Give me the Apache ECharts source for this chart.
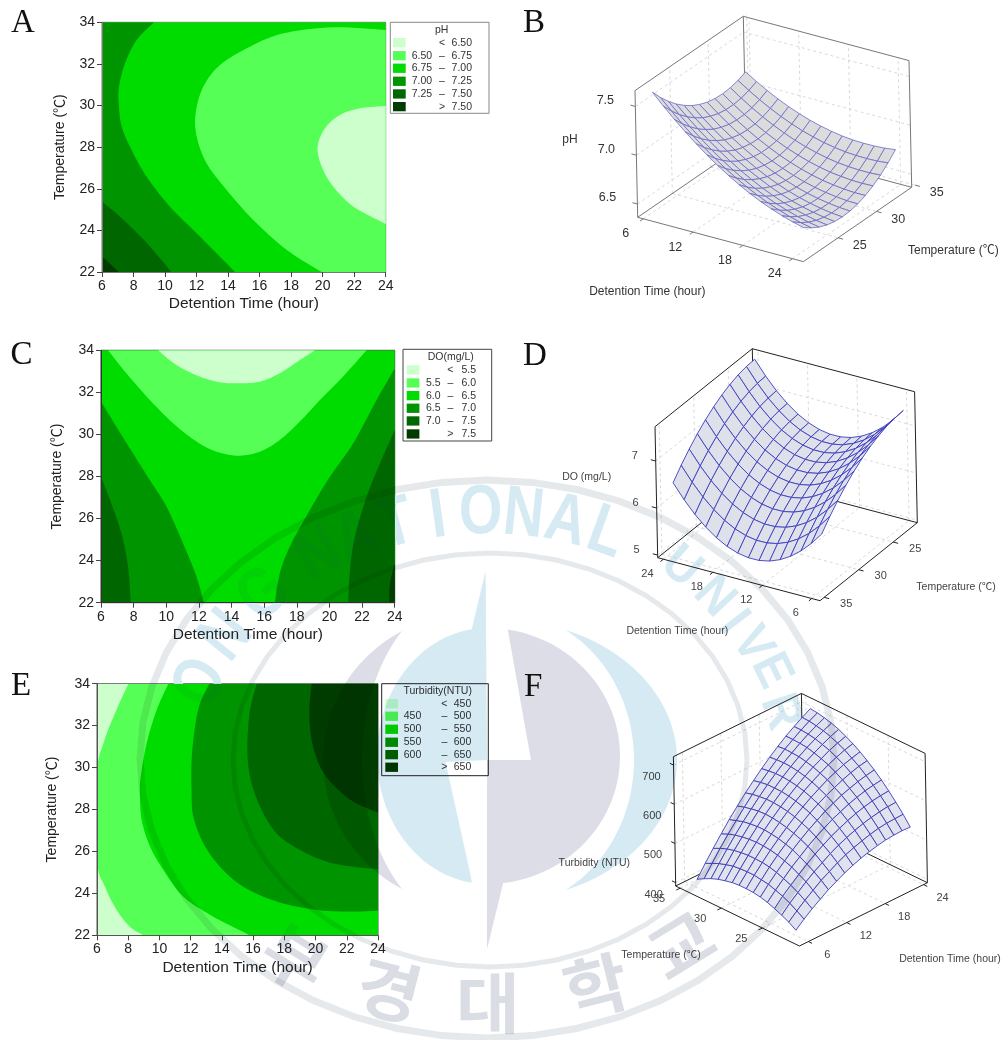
<!DOCTYPE html>
<html><head><meta charset="utf-8">
<style>html,body{margin:0;padding:0;background:#fff}#c{width:1002px;height:1040px}</style>
<script src="https://cdn.jsdelivr.net/npm/echarts@6/dist/echarts.min.js"></script>
</head><body><div id="c"></div>
<script>
const SANS="'Liberation Sans','Noto Sans CJK KR',sans-serif";
const greens=['#ccffcc','#55ff55','#00db00','#009400','#006600','#003c00'];

const xTicks=[6,8,10,12,14,16,18,20,22,24];
const A_700=[[9.3,34],[8.2,33.15],[7.46,32.03],[7.08,30.91],[7.06,30.11],[7.25,28.99],[7.88,27.86],[8.83,26.58],[10.31,25.14],[12.01,23.86],[14.44,22]];
const A_725=[[6,25.38],[7.14,24.66],[8.83,23.4],[10.4,22]];
const A_750=[[6,22.75],[6.5,22.4],[7.05,22]];
const A_675=[[24,33.63],[20.68,33.76],[17.51,33.47],[15.39,32.83],[13.49,31.95],[12.43,30.91],[11.94,29.63],[12.01,28.5],[12.64,27.22],[13.91,25.94],[15.6,24.5],[17.72,23.06],[19.94,22]];
const A_650=[[24,29.98],[22.37,29.87],[21.1,29.55],[20.15,28.91],[19.68,28.02],[19.94,27.06],[20.68,26.1],[21.95,25.14],[24,24.31]];

const C_55=[[9.5,34],[10.62,33.3],[12.05,32.75],[13.28,32.48],[14.41,32.43],[15.73,32.51],[16.96,32.91],[18.19,33.54],[19.11,34]];
const C_60=[[6.43,34],[7.55,32.91],[8.99,31.64],[10.42,30.53],[11.85,29.66],[13.08,29.18],[14.41,28.99],[15.73,29.18],[16.96,29.74],[18.19,30.61],[19.42,31.64],[20.64,32.59],[22.28,34]];
const C_65L=[[6,31.56],[6.94,30.37],[7.96,29.1],[8.99,27.83],[10.01,26.57],[11.03,24.82],[11.85,23.24],[12.3,22]];
const C_70L=[[6,27.99],[6.63,26.72],[7.25,25.3],[7.66,23.71],[7.82,22]];
const C_65R=[[24,33.14],[22.89,31.64],[21.46,29.58],[20.03,27.99],[18.8,26.41],[17.57,24.66],[16.96,23.4],[16.65,22]];
const C_70R=[[24,30.21],[23.1,28.63],[22.28,27.04],[21.56,25.14],[21.26,23.55],[21.15,22]];
const C_75R=[[24,23.87],[23.71,22.92],[23.65,22]];

const E_450=[[8.01,34],[7.15,32.59],[6.41,31.15],[6,29.72],[6,25.59],[6.51,24.32],[7.26,23.21],[8.11,22.41],[8.97,22]];
const E_500=[[10.57,34],[9.82,32.74],[9.18,31.16],[8.8,29.57],[8.75,28.77],[8.86,27.5],[9.4,26.23],[10.25,25.12],[11.53,23.84],[13.45,22.89],[15.8,22]];
const E_550=[[13.2,34],[12.6,33.06],[12.28,31.95],[12.06,30.36],[12.06,28.77],[12.17,27.66],[12.81,26.39],[13.88,25.27],[15.37,24.32],[17.51,23.61],[20.07,23.21],[22.42,23.13],[24,23.18]];
const E_600=[[16.23,34],[15.8,32.74],[15.63,31],[15.8,29.57],[16.44,28.14],[17.51,26.86],[19,26.07],[20.71,25.51],[22.42,25.27],[24,25.15]];
const E_650=[[19.75,34],[19.6,32.74],[19.75,31.31],[20.29,30.04],[21.14,29.17],[22.42,28.37],[24,27.85]];

/* ---- legend rows ---- */
const legendPH=[['','<','6.50'],['6.50','–','6.75'],['6.75','–','7.00'],['7.00','–','7.25'],['7.25','–','7.50'],['','>','7.50']];
const legendDO=[['','<','5.5'],['5.5','–','6.0'],['6.0','–','6.5'],['6.5','–','7.0'],['7.0','–','7.5'],['','>','7.5']];
const legendTU=[['','<','450'],['450','–','500'],['500','–','550'],['550','–','600'],['600','–','650'],['','>','650']];

const meshHours=[6,7.29,8.57,9.86,11.14,12.43,13.71,15,16.29,17.57,18.86,20.14,21.43,22.71,24];
const meshTempB=[22,23,24,25,26,27,28,29,30,31,32,33,34];
const pHSurface=[
[7.580,7.468,7.363,7.264,7.172,7.086,7.006,6.933,6.865,6.805,6.751,6.705,6.664,6.629,6.601],
[7.473,7.365,7.263,7.168,7.079,6.997,6.920,6.851,6.786,6.730,6.680,6.637,6.600,6.568,6.544],
[7.379,7.274,7.176,7.084,6.999,6.920,6.847,6.781,6.720,6.667,6.620,6.581,6.547,6.519,6.498],
[7.297,7.196,7.102,7.013,6.932,6.856,6.787,6.725,6.667,6.618,6.574,6.539,6.508,6.483,6.466],
[7.229,7.131,7.040,6.955,6.877,6.805,6.739,6.681,6.627,6.581,6.541,6.509,6.482,6.461,6.447],
[7.172,7.078,6.990,6.909,6.834,6.766,6.703,6.648,6.598,6.556,6.520,6.491,6.468,6.450,6.440],
[7.130,7.039,6.955,6.877,6.806,6.741,6.682,6.630,6.584,6.545,6.512,6.487,6.467,6.453,6.446],
[7.099,7.012,6.931,6.857,6.789,6.728,6.672,6.624,6.581,6.546,6.517,6.495,6.479,6.468,6.465],
[7.082,6.998,6.921,6.850,6.786,6.728,6.676,6.632,6.593,6.561,6.535,6.517,6.504,6.497,6.497],
[7.077,6.997,6.924,6.856,6.796,6.741,6.693,6.652,6.616,6.588,6.565,6.551,6.541,6.538,6.541],
[7.085,7.008,6.938,6.874,6.817,6.766,6.721,6.684,6.652,6.627,6.608,6.597,6.591,6.591,6.598],
[7.106,7.033,6.966,6.906,6.852,6.805,6.763,6.730,6.701,6.680,6.665,6.657,6.655,6.658,6.669],
[7.140,7.070,7.007,6.950,6.900,6.856,6.818,6.788,6.763,6.745,6.733,6.729,6.730,6.737,6.751]];
const meshTempD=[22,23.2,24.4,25.6,26.8,28,29.2,30.4,31.6,32.8,34];
const doSurface=[
[7.343,7.083,6.865,6.690,6.559,6.469,6.423,6.420,6.460,6.542,6.667,6.836,7.046,7.300,7.597],
[7.329,7.069,6.851,6.676,6.545,6.455,6.409,6.406,6.446,6.528,6.653,6.822,7.032,7.286,7.583],
[7.292,7.032,6.814,6.639,6.508,6.418,6.372,6.369,6.409,6.491,6.616,6.785,6.995,7.249,7.546],
[7.230,6.970,6.752,6.577,6.446,6.356,6.310,6.307,6.347,6.429,6.554,6.723,6.933,7.187,7.484],
[7.145,6.885,6.667,6.492,6.361,6.271,6.225,6.222,6.262,6.344,6.469,6.638,6.848,7.102,7.399],
[7.035,6.775,6.557,6.382,6.251,6.161,6.115,6.112,6.152,6.234,6.359,6.528,6.738,6.992,7.289],
[6.901,6.641,6.423,6.248,6.117,6.027,5.981,5.978,6.018,6.100,6.225,6.394,6.604,6.858,7.155],
[6.744,6.484,6.266,6.091,5.960,5.870,5.824,5.821,5.861,5.943,6.068,6.237,6.447,6.701,6.998],
[6.562,6.302,6.084,5.909,5.778,5.688,5.642,5.639,5.679,5.761,5.886,6.055,6.265,6.519,6.816],
[6.357,6.097,5.879,5.704,5.573,5.483,5.437,5.434,5.474,5.556,5.681,5.850,6.060,6.314,6.611],
[6.127,5.867,5.649,5.474,5.343,5.253,5.207,5.204,5.244,5.326,5.451,5.620,5.830,6.084,6.381]];
const meshTempF=[22,22.86,23.71,24.57,25.43,26.29,27.14,28,28.86,29.71,30.57,31.43,32.29,33.14,34];
const turbiditySurface=[
[405,423,439,453,467,478,489,498,506,512,517,521,523,524,523],
[417,435,452,467,482,494,506,516,524,531,537,542,545,546,547],
[426,446,463,480,495,508,521,532,541,549,556,561,565,568,569],
[434,455,473,490,506,521,534,546,556,565,573,579,584,587,589],
[441,462,481,500,516,532,546,558,570,579,588,595,601,605,608],
[446,468,488,507,525,541,556,569,582,592,602,609,616,621,625],
[449,471,493,513,531,548,564,579,592,603,613,622,630,636,640],
[450,474,496,517,536,554,571,586,600,612,624,633,642,648,654],
[450,474,497,519,539,558,576,592,607,620,632,643,652,660,666],
[448,473,497,520,541,561,579,596,612,626,639,650,661,669,676],
[444,471,495,519,541,562,581,599,615,630,644,656,667,677,685],
[439,466,492,516,539,561,581,599,617,633,648,661,673,683,692],
[432,460,487,512,536,558,579,599,617,634,649,663,676,687,697],
[423,452,480,506,530,554,576,596,615,633,650,664,678,690,701],
[413,443,471,498,524,548,571,592,612,631,648,664,678,691,703]];

const ticksHour3D=[6,12,18,24];
const ticksTemp3D=[25,30,35];
const ticksPH=[6.5,7.0,7.5];
const ticksDO=[5,6,7];
const ticksTU=[400,500,600,700];

/* ---- layout ---- */
const contourPanels=[
 {rect:[102,22.3,283.7,249.7],frame:'#777',nameGapX:24,nameGapY:35,full:greens[2],layers:[
  {c:3,curve:A_700,close:[[6,22],[6,34]]},{c:4,curve:A_725,close:[[6,22]]},{c:5,curve:A_750,close:[[6,22]]},
  {c:1,curve:A_675,close:[[24,22]]},{c:0,curve:A_650,close:[]}]},
 {rect:[101,350.3,293.7,252.4],frame:'#333',nameGapX:24,nameGapY:37,full:greens[2],layers:[
  {c:1,curve:C_60,close:[]},{c:0,curve:C_55,close:[]},{c:3,curve:C_65L,close:[[6,22]]},{c:4,curve:C_70L,close:[[6,22]]},
  {c:3,curve:C_65R,close:[[24,22]]},{c:4,curve:C_70R,close:[[24,22]]},{c:5,curve:C_75R,close:[[24,22]]}]},
 {rect:[97,683.7,281,251.6],frame:'#555',nameGapX:25,nameGapY:38,full:greens[0],layers:[
  {c:1,curve:E_450,close:[[24,22],[24,34]]},{c:2,curve:E_500,close:[[24,22],[24,34]]},
  {c:3,curve:E_550,close:[[24,34]]},{c:4,curve:E_600,close:[[24,34]]},{c:5,curve:E_650,close:[[24,34]]}]}
];
const legends=[
 {box:[390.3,22.3,98.7,91],border:'#888',title:'pH',titleX:441.7,titleY:30,rows:legendPH,ys:[42.7,55.7,68.3,81.3,94,106.7],sw:393,lo:411.7,dash:442,hi:472},
 {box:[403,349.3,88.7,91.7],border:'#444',title:'DO(mg/L)',titleX:450.7,titleY:357,rows:legendDO,ys:[370,383,395.7,408.3,421,434],sw:406.7,lo:426,dash:450.3,hi:476},
 {box:[381.7,683.7,106.6,92],border:'#222',title:'Turbidity(NTU)',titleX:437.7,titleY:691,rows:legendTU,ys:[703.7,716.3,729.3,742.3,754.7,767.3],sw:385.3,lo:403.7,dash:444.3,hi:471.3}
];
const surfaces=[
 {O:[637.7,217.3],E1:[165.7,44.3],E2:[108.3,-74.3],E3:[-2.7,-126.7],
  hours:meshHours,temps:meshTempB,z:pHSurface,
  p:v=>.034+(v-6)*.05,q:v=>.107+(v-22)*.071,r:v=>.105+(v-6.5)*.77,pIsHour:true,
  pTicks:ticksHour3D,qTicks:ticksTemp3D,zTicks:ticksPH,zFmt:v=>v.toFixed(1),
  pOff:[-17.7,15],qOff:[21.7,7.7],zOff:[-30,-6],fs:12.5,
  fill:'#dcdcdc',line:'#6a6ac8',lw:.8,edge:'#777',grid:'#cfcfcf',text:'#333',
  names:[['pH',570,139.3],['Detention Time (hour)',647.3,291.7],['Temperature (℃)',953.3,251]]},
 {O:[657.7,557.7],E1:[162.3,43],E2:[97.3,-78],E3:[-2.7,-131],
  hours:meshHours,temps:meshTempD,z:doSurface,
  p:v=>.035+(24-v)*.0508,q:v=>.114+(34-v)*.0709,r:v=>.02+(v-5)*.359,pIsHour:true,
  pTicks:ticksHour3D.slice().reverse(),qTicks:ticksTemp3D,zTicks:ticksDO,zFmt:v=>String(v),
  pOff:[-16,14.5],qOff:[22,6.7],zOff:[-21,-5],fs:11,
  fill:'#dfe1ea',line:'#3c3cc0',lw:.9,edge:'#222',grid:'#cfcfcf',text:'#444',
  names:[['DO (mg/L)',586.7,476.7],['Detention Time (hour)',677.3,630.7],['Temperature (℃)',956,586.7]]},
 {O:[675.7,886],E1:[123.7,60],E2:[128,-63.3],E3:[-2.3,-129.3],
  hours:meshHours,temps:meshTempF,z:turbiditySurface,
  p:v=>.102+(34-v)*.0665,q:v=>.07+(v-6)*.05,r:v=>.026+(v-400)*.00303,pIsHour:false,
  pTicks:ticksTemp3D,qTicks:ticksHour3D,zTicks:ticksTU,zFmt:v=>String(v),
  pOff:[-21,11],qOff:[19,13],zOff:[-22,12],fs:11,
  fill:'#e0e2ee',line:'#3c3cb8',lw:.9,edge:'#222',grid:'#cfcfcf',text:'#444',
  names:[['Turbidity (NTU)',594.3,863],['Temperature (℃)',661,955.3],['Detention Time (hour)',950,958.7]]}
];

/* ---- helpers ---- */
function spline(pts){ // Catmull-Rom drawing of a boundary through its read points
  const out=[],n=pts.length;
  for(let i=0;i<n-1;i++){
    const a=pts[Math.max(i-1,0)],b=pts[i],c=pts[i+1],d=pts[Math.min(i+2,n-1)];
    for(let k=0;k<10;k++){const s=k/10,s2=s*s,s3=s2*s;
      out.push([0,1].map(m=>.5*(2*b[m]+(c[m]-a[m])*s+(2*a[m]-5*b[m]+4*c[m]-d[m])*s2+(3*b[m]-a[m]-3*c[m]+d[m])*s3)));}
  }
  out.push(pts[n-1]);return out;
}
const series=[],grid=[],xAxis=[],yAxis=[];
contourPanels.forEach((P,g)=>{
  grid.push({left:P.rect[0],top:P.rect[1],width:P.rect[2],height:P.rect[3],show:true,borderColor:P.frame,borderWidth:1,containLabel:false});
  const ax={z:10,axisLine:{show:true,onZero:false,lineStyle:{color:P.frame,width:1}},axisTick:{show:true,length:5,lineStyle:{color:'#444'}},splitLine:{show:false},
    axisLabel:{fontFamily:SANS,fontSize:14,color:'#222',margin:7,hideOverlap:false,showMinLabel:true,showMaxLabel:true},
    nameLocation:'middle',nameTextStyle:{fontFamily:SANS,color:'#222'}};
  xAxis.push(Object.assign({},ax,{type:'value',gridIndex:g,min:6,max:24,interval:2,name:'Detention Time (hour)',nameGap:P.nameGapX,nameTextStyle:{fontFamily:SANS,color:'#222',fontSize:15.5}}));
  yAxis.push(Object.assign({},ax,{type:'value',gridIndex:g,min:22,max:34,interval:2,name:'Temperature (℃)',nameGap:P.nameGapY,nameTextStyle:{fontFamily:SANS,color:'#222',fontSize:14}}));
  const layers=[{c:null,curve:[[6,34],[24,34]],close:[[24,22],[6,22]]}].concat(P.layers);
  series.push({type:'custom',xAxisIndex:g,yAxisIndex:g,clip:true,silent:true,z:2,encode:{x:0,y:1},
    data:layers.map(l=>l.curve[0]),
    renderItem(params,api){
      const l=layers[params.dataIndex];
      const pts=(l.c===null?l.curve:spline(l.curve)).concat(l.close).map(d=>api.coord(d));
      return {type:'polygon',shape:{points:pts},style:{fill:l.c===null?P.full:greens[l.c],stroke:null}};
    }});
});
/* hidden plane that receives the 3D projection */
const PLANE=contourPanels.length;
grid.push({left:0,top:0,width:1002,height:1040,show:false});
xAxis.push({type:'value',gridIndex:PLANE,min:0,max:1002,show:false});
yAxis.push({type:'value',gridIndex:PLANE,min:0,max:1040,inverse:true,show:false});

surfaces.forEach(S=>{
  const proj=(p,q,r)=>[S.O[0]+p*S.E1[0]+q*S.E2[0]+r*S.E3[0],S.O[1]+p*S.E1[1]+q*S.E2[1]+r*S.E3[1]];
  const X=[S.E1[0],S.E2[0],S.E3[0]],Y=[S.E1[1],S.E2[1],S.E3[1]];
  let nv=[X[1]*Y[2]-X[2]*Y[1],X[2]*Y[0]-X[0]*Y[2],X[0]*Y[1]-X[1]*Y[0]];
  if(nv[2]<0)nv=nv.map(v=>-v);
  const coords=(i,j)=>{const h=S.hours[i],t=S.temps[j];
    return S.pIsHour?[S.p(h),S.q(t),S.r(S.z[j][i])]:[S.p(t),S.q(h),S.r(S.z[j][i])];};
  /* frame */
  const segs=[];
  const gridSeg=(a,b)=>segs.push({a,b,c:S.grid,dash:[3,3],w:.8});
  const pv=S.pTicks.map(S.p),qv=S.qTicks.map(S.q),rv=S.zTicks.map(S.r);
  pv.forEach(p=>{gridSeg([p,0,0],[p,1,0]);gridSeg([p,1,0],[p,1,1]);});
  qv.forEach(q=>{gridSeg([0,q,0],[1,q,0]);gridSeg([0,q,0],[0,q,1]);});
  rv.forEach(r=>{gridSeg([0,0,r],[0,1,r]);gridSeg([0,1,r],[1,1,r]);});
  const edge=(a,b)=>segs.push({a,b,c:S.edge,dash:null,w:1});
  [[[0,0,0],[1,0,0]],[[1,0,0],[1,1,0]],[[0,0,0],[0,1,0]],[[0,1,0],[1,1,0]],[[0,0,0],[0,0,1]],[[0,1,0],[0,1,1]],[[1,1,0],[1,1,1]],[[0,0,1],[0,1,1]],[[0,1,1],[1,1,1]]].forEach(e=>edge(e[0],e[1]));
  pv.forEach(p=>edge([p,0,0],[p,-.03,0]));
  qv.forEach(q=>edge([1,q,0],[1.03,q,0]));
  rv.forEach(r=>edge([0,0,r],[-.03,0,r]));
  series.push({type:'custom',xAxisIndex:PLANE,yAxisIndex:PLANE,silent:true,z:3,encode:{x:0,y:1},
    data:segs.map((s,i)=>[0,0]),
    renderItem(params,api){const s=segs[params.dataIndex];
      const a=api.coord(proj(...s.a)),b=api.coord(proj(...s.b));
      return {type:'line',shape:{x1:a[0],y1:a[1],x2:b[0],y2:b[1]},style:{stroke:s.c,lineWidth:s.w,lineDash:s.dash}};}});
  /* surface quads, far first */
  const quads=[];
  for(let j=0;j<S.temps.length-1;j++)for(let i=0;i<S.hours.length-1;i++){
    const cs=[coords(i,j),coords(i+1,j),coords(i+1,j+1),coords(i,j+1)];
    const depth=cs.reduce((m,c)=>m+c[0]*nv[0]+c[1]*nv[1]+c[2]*nv[2],0);
    quads.push({cs,depth});
  }
  quads.sort((a,b)=>a.depth-b.depth);
  series.push({type:'custom',xAxisIndex:PLANE,yAxisIndex:PLANE,silent:true,z:4,encode:{x:0,y:1},
    data:quads.map(()=>[0,0]),
    renderItem(params,api){const q=quads[params.dataIndex];
      return {type:'polygon',shape:{points:q.cs.map(c=>api.coord(proj(...c)))},style:{fill:S.fill,stroke:S.line,lineWidth:S.lw,lineJoin:'round'}};}});
  /* tick labels */
  const labels=[];
  S.pTicks.forEach(v=>labels.push({t:String(v),pos:[S.p(v),0,0],off:S.pOff}));
  S.qTicks.forEach(v=>labels.push({t:String(v),pos:[1,S.q(v),0],off:S.qOff}));
  S.zTicks.forEach(v=>labels.push({t:S.zFmt(v),pos:[0,0,S.r(v)],off:S.zOff}));
  series.push({type:'custom',xAxisIndex:PLANE,yAxisIndex:PLANE,silent:true,z:5,encode:{x:0,y:1},
    data:labels.map(()=>[0,0]),
    renderItem(params,api){const l=labels[params.dataIndex];
      const c=api.coord(proj(...l.pos));
      return {type:'text',x:c[0]+l.off[0],y:c[1]+l.off[1],style:{text:l.t,fontFamily:SANS,fontSize:S.fs,fill:S.text,textAlign:'center',verticalAlign:'middle'}};}});
});

/* ---- graphic: letters, legends, 3D axis names ---- */
const gfx=[];
const txt=(t,x,y,o)=>gfx.push({type:'text',x,y,z:(o&&o.z)||20,rotation:(o&&o.rot)||0,style:Object.assign({text:t,fontFamily:SANS,fontSize:12,fill:'#222',textAlign:'center',verticalAlign:'middle'},o&&o.style)});
[['A',11,23],['B',523,23.5],['C',10.5,355],['D',523,356],['E',11,686.5],['F',524,687]].forEach(l=>
  txt(l[0],l[1],l[2],{style:{fontFamily:"'Liberation Serif',serif",fontSize:33,fill:'#111',textAlign:'left'}}));
legends.forEach(L=>{
  gfx.push({type:'rect',z:20,shape:{x:L.box[0],y:L.box[1],width:L.box[2],height:L.box[3]},style:{fill:'#fff',stroke:L.border,lineWidth:1}});
  txt(L.title,L.titleX,L.titleY,{style:{fontSize:10.5,fill:'#333'}});
  L.rows.forEach((r,i)=>{
    gfx.push({type:'rect',z:20,shape:{x:L.sw,y:L.ys[i]-4.7,width:12.7,height:9.3},style:{fill:greens[i]}});
    const st={fontSize:10.5,fill:'#333'};
    if(r[0])txt(r[0],L.lo,L.ys[i],{style:Object.assign({textAlign:'left'},st)});
    txt(r[1],L.dash,L.ys[i],{style:st});
    txt(r[2],L.hi,L.ys[i],{style:Object.assign({textAlign:'right'},st)});
  });
});
surfaces.forEach(S=>S.names.forEach(n=>txt(n[0],n[1],n[2],{style:{fontSize:S.fs-.5,fill:S.text}})));

/* ---- faint seal printed over the page ---- */
const WM={z:60,cyan:'#d6eaf3',gray:'#dcdde6',ring:'#e6e9ec'};
const ellArc=(cx,cy,rx,ry,a0,a1)=>{const a=[];for(let i=0;i<=48;i++){const t=(a0+(a1-a0)*i/48)*Math.PI/180;a.push([cx+rx*Math.cos(t),cy+ry*Math.sin(t)]);}return a;};
const wmPoly=(points,fill)=>gfx.push({type:'polygon',z:WM.z,silent:true,shape:{points},style:{fill,blend:'multiply'}});
const wmLine=(points,w,c)=>gfx.push({type:'polyline',z:WM.z,silent:true,shape:{points},style:{stroke:c,lineWidth:w,fill:null,blend:'multiply'}});
wmLine(ellArc(487,759,347,279,0,360),7,WM.ring);
wmLine(ellArc(490,760,257,207,0,360),5,WM.ring);
/* left cyan half and right gray half of the emblem */
wmPoly([[485.6,571],[487,760],[445.5,762],[471,877]].concat(ellArc(487,756,110,128,98,262)),WM.cyan);
wmPoly(ellArc(487,756,133,128,-81,83).concat([[487,949],[487,760],[531,760]]),WM.gray);
/* crescents */
wmPoly(ellArc(500,760,177,140,-68,68).concat(ellArc(500,760,134,149,60.5,-60.5)),WM.cyan);
wmPoly(ellArc(475,760,152,147,118.3,241.7).concat(ellArc(475,760,113,169,230.4,129.6)),WM.gray);
/* lettering: a pale copy under the plots plus a very faint tint across them */
const sealText=(t,x,y,rot,size,font,scaleX,base,tint)=>{
  [[1,base],[WM.z,tint]].forEach(v=>gfx.push({type:'text',z:v[0],silent:true,x,y,rotation:rot,scaleX,
    style:{text:t,fontFamily:font,fontWeight:'bold',fontSize:size,fill:v[1],textAlign:'center',verticalAlign:'middle'}}));
};
const CB='#e3f5fc',CT='rgba(0,64,96,0.06)',GB='#e7e9f0',GT='rgba(40,40,70,0.06)';
[['O',-72],['N',-60],['G',-48],['N',-34],['A',-25.8],['T',-17.6],['I',-9.4],['O',-1.2],['N',7],['A',15.2],['L',23.4]].forEach(l=>{
  const a=l[1]*Math.PI/180;
  sealText(l[0],487+300*Math.sin(a),759-245*Math.cos(a),-a*.85,70,SANS,.8,CB,CT);});
[['U',681,567,-.72],['N',714,597,-.82],['I',733,623,-.92],['V',752,645,-1.02],['E',771,671,-1.12],['R',780,712,-1.25]].forEach(l=>
  sealText(l[0],l[1],l[2],l[3],52,SANS,.9,CB,CT));
[['부',295,958,-.55],['경',389,990,-.25],['대',488,1003,0],['학',596,986,.25],['교',681,945,.55]].forEach(l=>
  sealText(l[0],l[1],l[2],l[3],66,"'Noto Sans CJK KR'",1.05,GB,GT));

const chart=echarts.init(document.getElementById('c'),null,{renderer:'canvas',width:1002,height:1040});
chart.setOption({animation:false,backgroundColor:'#fff',tooltip:{show:false},grid,xAxis,yAxis,series,graphic:{elements:gfx}});
</script></body></html>
